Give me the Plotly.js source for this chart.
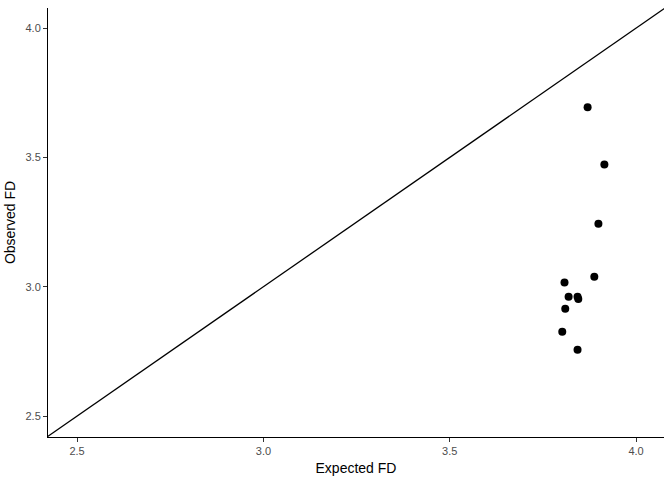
<!DOCTYPE html>
<html>
<head>
<script src="https://cdn.plot.ly/plotly-3.0.1.min.js"></script>
<style>body{margin:0;background:#fff}</style>
</head>
<body>
<div id="chart" style="width:672px;height:480px"></div>
<script>
const expectedFD = [3.870, 3.915, 3.899, 3.888, 3.808, 3.819, 3.843, 3.845, 3.810, 3.802, 3.843];
const observedFD = [3.694, 3.473, 3.244, 3.039, 3.016, 2.961, 2.961, 2.953, 2.915, 2.826, 2.756];
const lineEnds = [2.3, 4.2];
const tickVals = [2.5, 3.0, 3.5, 4.0];
const tickText = ['2.5', '3.0', '3.5', '4.0'];

const axisStyle = {
    tickvals: tickVals,
    ticktext: tickText,
    ticks: 'outside',
    ticklen: 4,
    tickcolor: '#333',
    tickfont: { family: 'Liberation Sans, Arial', size: 11, color: '#4d4d4d' },
    showgrid: false,
    zeroline: false,
    showline: true,
    linecolor: '#000',
    linewidth: 1
};

const data = [
    {
        x: lineEnds, y: lineEnds, mode: 'lines', type: 'scatter',
        line: { color: '#000', width: 1.3 }, hoverinfo: 'skip'
    },
    {
        x: expectedFD, y: observedFD, mode: 'markers', type: 'scatter',
        marker: { color: '#000', size: 8 }
    }
];

const layout = {
    width: 672, height: 480,
    margin: { l: 48, r: 8, t: 8, b: 43 },
    showlegend: false,
    plot_bgcolor: '#fff', paper_bgcolor: '#fff',
    xaxis: Object.assign({}, axisStyle, {
        range: [2.422, 4.075],
        title: { text: 'Expected FD', font: { family: 'Liberation Sans, Arial', size: 14, color: '#000' }, standoff: 6 }
    }),
    yaxis: Object.assign({}, axisStyle, {
        range: [2.419, 4.078],
        title: { text: 'Observed FD', font: { family: 'Liberation Sans, Arial', size: 14, color: '#000' }, standoff: 6 }
    })
};

Plotly.newPlot('chart', data, layout, { displayModeBar: false });
</script>
</body>
</html>
